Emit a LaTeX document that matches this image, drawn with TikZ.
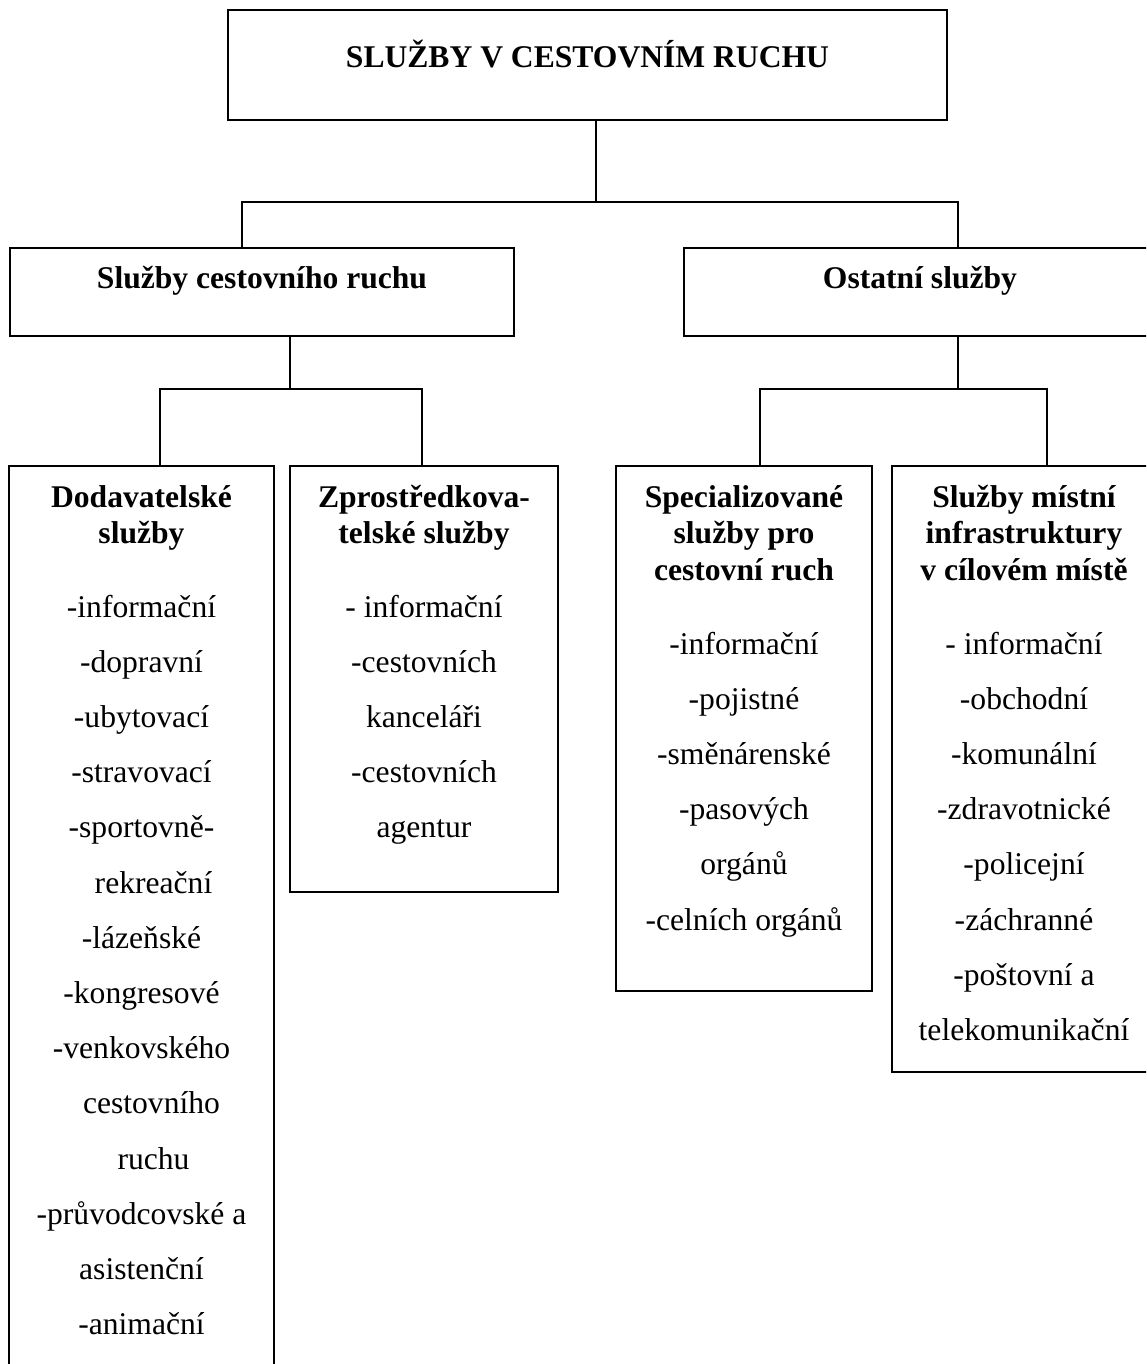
\documentclass[tikz,border=0pt]{standalone}
\usepackage{fontspec}
\setmainfont{Liberation Serif}
\begin{document}
\begin{tikzpicture}[x=1pt,y=-1pt,
  box/.style={draw,line width=2pt,rectangle,inner sep=0pt},
  conn/.style={line width=2pt},
  txt/.style={anchor=base,inner sep=0pt,font=\fontsize{31.6}{38}\selectfont},
  hd/.style={anchor=base,inner sep=0pt,font=\fontsize{31.6}{38}\selectfont\bfseries}]
\useasboundingbox (0,0) rectangle (1146,1364);
\clip (0,0) rectangle (1146,1364);
% boxes
\node[box,minimum width=719pt,minimum height=110pt] (top) at (587.5,65) {};
\node[box,minimum width=504pt,minimum height=88pt] (scr) at (262,292) {};
\node[box,minimum width=472pt,minimum height=88pt] (os) at (920,292) {};
\node[box,minimum width=265pt,minimum height=924pt] (dod) at (141.5,928) {};
\node[box,minimum width=268pt,minimum height=426pt] (zpr) at (424,679) {};
\node[box,minimum width=256pt,minimum height=525pt] (spec) at (744,728.5) {};
\node[box,minimum width=264pt,minimum height=606pt] (mist) at (1024,769) {};
% junctions
\coordinate (j0) at (596,202);
\coordinate (a1) at (242,202);
\coordinate (a2) at (958,202);
\coordinate (b0) at (290,389);
\coordinate (b1) at (160,389);
\coordinate (b2) at (422,389);
\coordinate (c0) at (958,389);
\coordinate (c1) at (760,389);
\coordinate (c2) at (1047,389);
% connectors
\draw[conn] (j0 |- top.south) -- (j0);
\draw[conn] (a1 |- scr.north) -- (a1) -- (a2) -- (a2 |- os.north);
\draw[conn] (b0 |- scr.south) -- (b0);
\draw[conn] (b1 |- dod.north) -- (b1) -- (b2) -- (b2 |- zpr.north);
\draw[conn] (c0 |- os.south) -- (c0);
\draw[conn] (c1 |- spec.north) -- (c1) -- (c2) -- (c2 |- mist.north);
% texts
\node[hd] (ttop) at (587.5,68) {SLUŽBY V CESTOVNÍM RUCHU};
\node[hd] (tscr) at (262,288) {Služby cestovního ruchu};
\node[hd] (tos) at (920,288) {Ostatní služby};
% box 1
\node[hd] (hd1a) at (141.5,507) {Dodavatelské};
\node[hd] (hd1b) at (141.5,543.5) {služby};
\foreach \dx/\t [count=\i from 0] in {0/-informační,0/-dopravní,0/-ubytovací,0/-stravovací,0/-sportovně-,12/rekreační,0/-lázeňské,0/-kongresové,0/-venkovského,10/cestovního,12/ruchu,0/-průvodcovské a,0/asistenční,0/-animační}
  \node[txt] (d\i) at (141.5+\dx,617+55.2*\i) {\t};
% box 2
\node[hd] (hd2a) at (424,507) {Zprostředkova-};
\node[hd] (hd2b) at (424,543.5) {telské služby};
\foreach \t [count=\i from 0] in {- informační,-cestovních,kanceláři,-cestovních,agentur}
  \node[txt] (z\i) at (424,617+55.2*\i) {\t};
% box 3
\node[hd] (hd3a) at (744,507) {Specializované};
\node[hd] (hd3b) at (744,543.5) {služby pro};
\node[hd] (hd3c) at (744,580) {cestovní ruch};
\foreach \t [count=\i from 0] in {-informační,-pojistné,-směnárenské,-pasových,orgánů,-celních orgánů}
  \node[txt] (s\i) at (744,654+55.2*\i) {\t};
% box 4
\node[hd] (hd4a) at (1024,507) {Služby místní};
\node[hd] (hd4b) at (1024,543.5) {infrastruktury};
\node[hd] (hd4c) at (1024,580) {v cílovém místě};
\foreach \t [count=\i from 0] in {- informační,-obchodní,-komunální,-zdravotnické,-policejní,-záchranné,-poštovní a,telekomunikační}
  \node[txt] (m\i) at (1024,654+55.2*\i) {\t};
\end{tikzpicture}
\end{document}
